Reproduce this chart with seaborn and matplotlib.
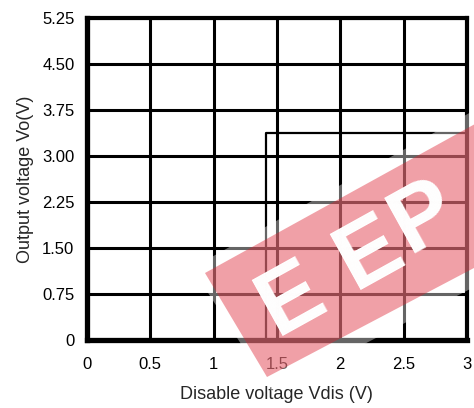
import numpy as np
import pandas as pd
import matplotlib
matplotlib.use("Agg")
import matplotlib.pyplot as plt
from matplotlib.patches import Polygon
import seaborn as sns

# -------------------------
# Data
# -------------------------
x_ticks = [0, 0.5, 1, 1.5, 2, 2.5, 3]
x_tick_labels = ["0", "0.5", "1", "1.5", "2", "2.5", "3"]
y_ticks = [0, 0.75, 1.5, 2.25, 3.0, 3.75, 4.5, 5.25]
y_tick_labels = ["0", "0.75", "1.50", "2.25", "3.00", "3.75", "4.50", "5.25"]

# output switching curve
vdis = [0, 1.41, 1.41, 3.0]
vo = [0, 0, 3.38, 3.38]

curve = pd.DataFrame({"vdis": vdis, "vo": vo})

sns.set_style("white")
plt.rcParams["font.family"] = ["Liberation Sans", "DejaVu Sans"]

fig = plt.figure(figsize=(4.74, 4.08), dpi=100)
ax = fig.add_axes([0.1835, 0.1667, 0.8015, 0.7893])

sns.lineplot(data=curve, x="vdis", y="vo", sort=False, estimator=None,
             color="black", linewidth=1.6, ax=ax, zorder=3)

ax.set_xlim(0, 3)
ax.set_ylim(0, 5.25)
ax.set_xticks(x_ticks)
ax.set_xticklabels(x_tick_labels, fontsize=12)
ax.set_yticks(y_ticks)
ax.set_yticklabels(y_tick_labels, fontsize=12)
ax.grid(True, color="black", linewidth=2.2)
ax.tick_params(axis="both", direction="out", length=3, width=1.5,
               colors="black", pad=6)
ax.tick_params(axis="x", pad=9)

for side in ["left", "bottom", "top", "right"]:
    ax.spines[side].set_color("black")
ax.spines["left"].set_linewidth(3.8)
ax.spines["bottom"].set_linewidth(3.8)
ax.spines["top"].set_linewidth(3.0)
ax.spines["right"].set_linewidth(3.0)

ax.set_xlabel("Disable voltage Vdis (V)", fontsize=13, labelpad=10)
ax.set_ylabel("Output voltage Vo(V)", fontsize=13, labelpad=6)

# -------------------------
# Watermark band (figure pixels, origin top-left)
# -------------------------
H = 408
def px(pts):
    return [(p[0] / 474, (H - p[1]) / H) for p in pts]

haze = Polygon(px([(192, 268), (600, 40), (680, 180), (272, 392)]),
               closed=True, transform=fig.transFigure, facecolor="white",
               alpha=0.4, edgecolor="none", zorder=10)
band = Polygon(px([(205, 273), (600, 55), (660, 170), (267, 377)]),
               closed=True, transform=fig.transFigure, facecolor="#dc1e2d",
               alpha=0.42, edgecolor="none", zorder=11)
fig.patches.extend([haze, band])
for letter, (lx, ly) in zip("EEP", [(292, 300), (370, 254), (424, 218)]):
    fig.text(lx / 474, (H - ly) / H, letter, transform=fig.transFigure,
             fontsize=66, fontweight="heavy", color="white", rotation=29,
             ha="center", va="center", zorder=12)

fig.savefig("out.png", dpi=100)
